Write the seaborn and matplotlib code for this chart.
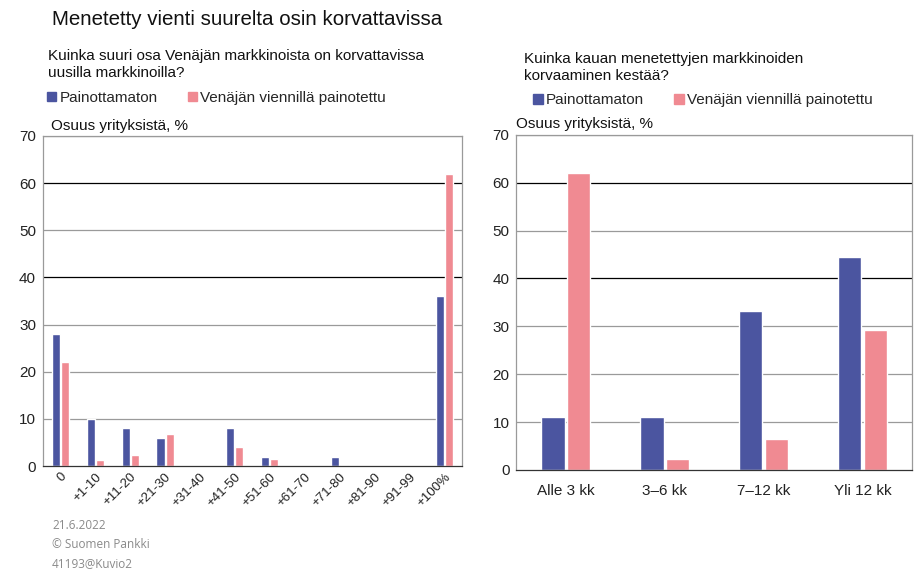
import numpy as np
import pandas as pd
import matplotlib
matplotlib.use("Agg")
import matplotlib.pyplot as plt
import seaborn as sns
from matplotlib.patches import Patch

# ==========================================
# DATA
# ==========================================
share_cats = ["0", "+1-10", "+11-20", "+21-30", "+31-40", "+41-50", "+51-60",
              "+61-70", "+71-80", "+81-90", "+91-99", "+100%"]
share_unweighted = [28, 10, 8, 6, 0, 8, 2, 0, 2, 0, 0, 36]
share_weighted = [22, 1.2, 2.4, 6.8, 0, 4, 1.5, 0, 0.3, 0, 0, 62]

time_cats = ["Alle 3 kk", "3\u20136 kk", "7\u201312 kk", "Yli 12 kk"]
time_unweighted = [11.1, 11.1, 33.3, 44.4]
time_weighted = [62, 2.4, 6.4, 29.2]

series_names = ["Painottamaton", "Venäjän viennillä painotettu"]
colors = ["#4b55a0", "#f08a92"]

df_left = pd.DataFrame({
    "cat": share_cats * 2,
    "val": share_unweighted + share_weighted,
    "series": [series_names[0]] * len(share_cats) + [series_names[1]] * len(share_cats),
})
df_right = pd.DataFrame({
    "cat": time_cats * 2,
    "val": time_unweighted + time_weighted,
    "series": [series_names[0]] * len(time_cats) + [series_names[1]] * len(time_cats),
})

# ==========================================
# STYLE
# ==========================================
sns.set_style("white")
plt.rcParams["font.family"] = ["Liberation Sans", "DejaVu Sans"]

fig = plt.figure(figsize=(9.14, 5.69), dpi=100)
ax1 = fig.add_axes([0.047, 0.181, 0.458, 0.580])
ax2 = fig.add_axes([0.565, 0.174, 0.433, 0.589])


def style_axis(ax):
    ax.set_ylim(0, 70)
    ax.set_yticks(range(0, 80, 10))
    for v in range(10, 80, 10):
        c = "black" if v in (40, 60) else "#9a9a9a"
        ax.axhline(v, color=c, lw=0.9, zorder=0)
    for s in ax.spines.values():
        s.set_color("#9a9a9a")
        s.set_linewidth(0.9)
    ax.spines["bottom"].set_color("#333333")
    ax.tick_params(axis="both", length=0, labelsize=11, colors="#222222")
    ax.tick_params(axis="y", pad=5)
    ax.set_xlabel("")
    ax.set_ylabel("")


sns.barplot(data=df_left, x="cat", y="val", hue="series", palette=colors,
            width=0.52, gap=0.1, ax=ax1, legend=False, saturation=1)
style_axis(ax1)
ax1.set_xlim(-0.5, len(share_cats) - 0.5)
ax1.set_xticks(range(len(share_cats)))
ax1.set_xticklabels(share_cats, rotation=45, ha="right", rotation_mode="anchor",
                    fontsize=9.5)

sns.barplot(data=df_right, x="cat", y="val", hue="series", palette=colors,
            width=0.52, gap=0.1, ax=ax2, legend=False, saturation=1)
style_axis(ax2)
ax2.set_xlim(-0.5, len(time_cats) - 0.5)
ax2.tick_params(axis="x", labelsize=11, pad=10)

# ==========================================
# TEXTS
# ==========================================
fig.text(0.057, 0.965, "Menetetty vienti suurelta osin korvattavissa",
         fontsize=14.8, va="center", color="#111111")
fig.text(0.053, 0.914, "Kuinka suuri osa Venäjän markkinoista on korvattavissa\nuusilla markkinoilla?",
         fontsize=11, va="top", linespacing=1.3, color="#111111")
fig.text(0.573, 0.909, "Kuinka kauan menetettyjen markkinoiden\nkorvaaminen kestää?",
         fontsize=11, va="top", linespacing=1.3, color="#111111")
fig.text(0.056, 0.778, "Osuus yrityksistä, %", fontsize=11, va="center", color="#111111")
fig.text(0.565, 0.782, "Osuus yrityksistä, %", fontsize=11, va="center", color="#111111")

handles = [Patch(color=c, label=n) for c, n in zip(colors, series_names)]
for x, y in [(0.045, 0.828), (0.577, 0.824)]:
    fig.legend(handles=handles, loc="center left", bbox_to_anchor=(x, y), ncol=2,
               frameon=False, fontsize=11, handlelength=0.6, handleheight=0.6,
               handletextpad=0.2, columnspacing=2.0, borderaxespad=0)

for i, t in enumerate(["21.6.2022", "\u00a9 Suomen Pankki", "41193@Kuvio2"]):
    fig.text(0.057, 0.077 - i * 0.034, t, fontsize=8.5, color="#8a8a8a",
             family=["Open Sans", "DejaVu Sans"], va="center")

fig.savefig("out.png", dpi=100)
